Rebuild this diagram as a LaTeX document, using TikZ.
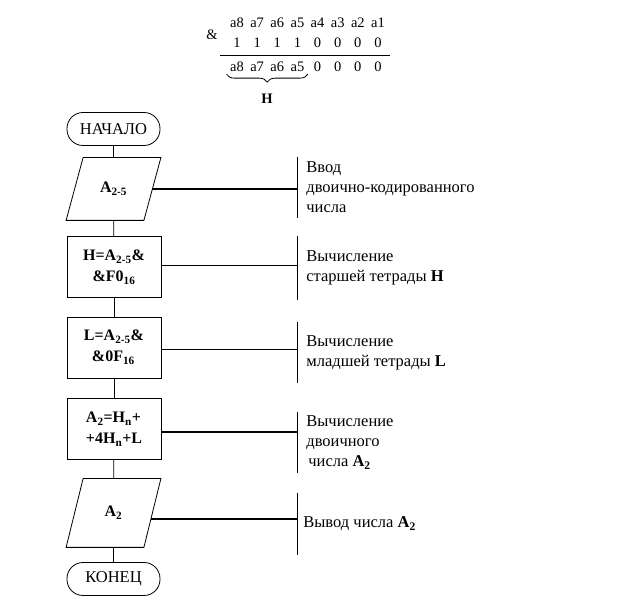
\documentclass[tikz,border=0pt]{standalone}
\usepackage{fontspec}
\setmainfont{Liberation Serif}
\usetikzlibrary{matrix, positioning, decorations.pathreplacing}

\begin{document}
\begin{tikzpicture}[x=1pt, y=1pt, line width=0.8pt,
  font=\fontsize{16.5}{20}\selectfont,
  term/.style={draw, rounded corners=16pt, minimum width=93pt, minimum height=33pt, inner sep=0pt},
  io/.style={minimum width=77pt, minimum height=62pt, inner sep=0pt, font=\fontsize{16}{20}\selectfont\bfseries},
  proc/.style={draw, rectangle, minimum width=94pt, minimum height=61pt, inner sep=2pt, align=center, font=\fontsize{16}{21}\selectfont\bfseries},
  note/.style={align=left, anchor=west, inner xsep=9pt, inner ysep=0pt},
  cell/.style={minimum width=20.14pt, inner sep=0pt, text height=9pt, text depth=2.5pt}]
\useasboundingbox (0,0) rectangle (643,597);

% logical AND with the mask
\matrix (sum) at (307.5,551) [matrix of nodes, nodes={cell}, column sep=0pt, row sep=8.5pt, font=\fontsize{14.5}{16}\selectfont]{
a8 & a7 & a6 & a5 & a4 & a3 & a2 & a1 \\
1 & 1 & 1 & 1 & 0 & 0 & 0 & 0 \\[4pt]
a8 & a7 & a6 & a5 & 0 & 0 & 0 & 0 \\
};
\node (amp) at (212,562) {\fontsize{14.5}{16}\selectfont\&};
\coordinate (rule-l) at (220,542);
\coordinate (rule-r) at (390,542);
\draw (rule-l) -- (rule-r);
\draw[decorate, decoration={brace, mirror, amplitude=8pt}] (sum-3-1.south west) -- (sum-3-4.south east);
\node (hi) at (267,498) {\fontsize{14.5}{16}\selectfont\textbf{H}};

% flowchart
\node[term] (start) at (113.5,468) {НАЧАЛО};
\node[io] (in) at (113.5,408) {A\textsubscript{2-5}};
\node[proc] (hb) at (114,330) {H=A\textsubscript{2-5}\&\\\&F0\textsubscript{16}};
\node[proc, align=left] (lb) at (114,249.5) {L=A\textsubscript{2-5}\&\\\hspace{8pt}\&0F\textsubscript{16}};
\node[proc, align=left] (ab) at (114,168) {A\textsubscript{2}=H\textsubscript{n}+\\+4H\textsubscript{n}+L};
\node[io, minimum height=68pt] (out) at (113.5,84) {A\textsubscript{2}};
\node[term] (stop) at (113.5,18) {КОНЕЦ};

% parallelograms round the io nodes
\draw ([xshift=8.5pt]in.north west) -- ([xshift=8.5pt]in.north east) -- ([xshift=-8.5pt]in.south east) -- ([xshift=-8.5pt]in.south west) -- cycle;
\draw ([xshift=8.5pt]out.north west) -- ([xshift=8.5pt]out.north east) -- ([xshift=-8.5pt]out.south east) -- ([xshift=-8.5pt]out.south west) -- cycle;

\draw (start) -- (in);
\draw (in) -- (hb);
\draw (hb) -- (lb);
\draw (lb) -- (ab);
\draw (ab) -- (out);
\draw (out) -- (stop);

% comments
\node[note, minimum height=61pt] (c1) at (297,409.5) {Ввод\\двоично-кодированного\\числа};
\node[note, minimum height=64pt] (c2) at (297,329) {Вычисление\\старшей тетрады \textbf{H}};
\node[note, minimum height=61pt] (c3) at (297,244.5) {Вычисление\\младшей тетрады \textbf{L}};
\node[note, minimum height=61pt] (c4) at (297,154.5) {Вычисление\\двоичного\\\hspace{2pt}числа \textbf{A\textsubscript{2}}};
\node[note, minimum height=62pt, inner xsep=6pt] (c5) at (297,73) {Вывод числа \textbf{A\textsubscript{2}}};

\draw (c1.north west) -- (c1.south west);
\draw (c2.north west) -- (c2.south west);
\draw (c3.north west) -- (c3.south west);
\draw (c4.north west) -- (c4.south west);
\draw (c5.north west) -- (c5.south west);

\draw[line width=1.5pt] (in.east) -- (in.east -| c1.west);
\draw ([yshift=2pt]hb.east) -- ([yshift=2pt]hb.east -| c2.west);
\draw ([yshift=-2pt]lb.east) -- ([yshift=-2pt]lb.east -| c3.west);
\draw[line width=1.5pt] ([yshift=-3pt]ab.east) -- ([yshift=-3pt]ab.east -| c4.west);
\draw[line width=1.5pt] ([xshift=-1.5pt,yshift=-6pt]out.east) -- ([yshift=-6pt]out.east -| c5.west);
\end{tikzpicture}
\end{document}
